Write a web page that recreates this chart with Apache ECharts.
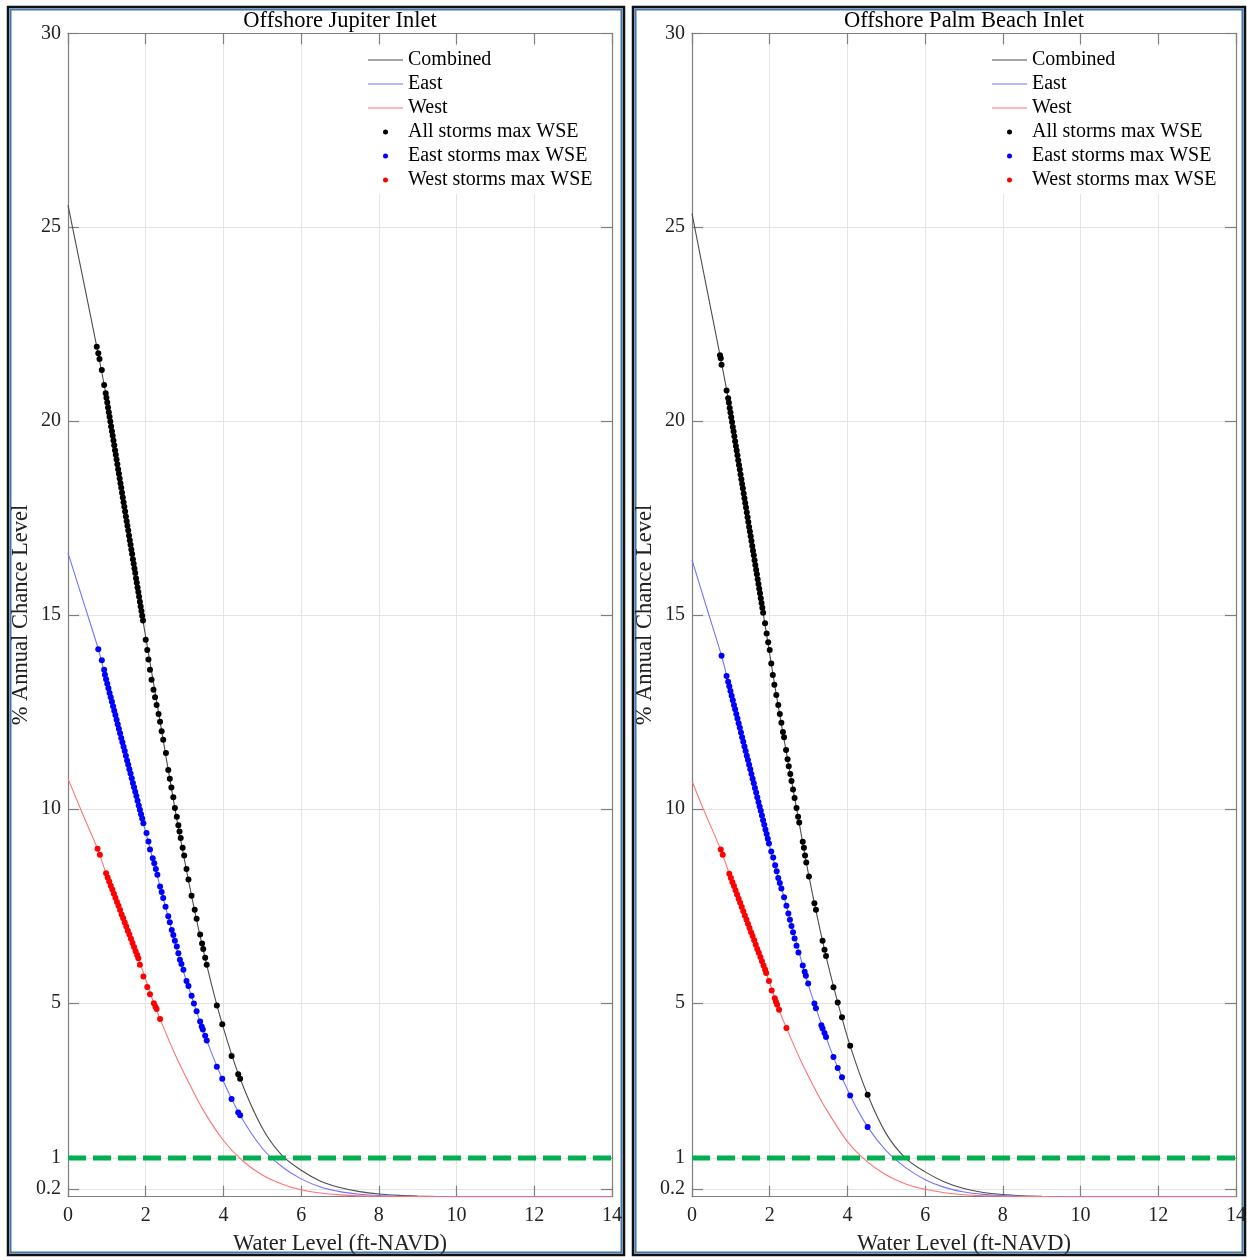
<!DOCTYPE html>
<html><head><meta charset="utf-8">
<script src="https://cdn.jsdelivr.net/npm/echarts@6/dist/echarts.min.js"></script>
<style>html,body{margin:0;padding:0;background:#fff}#c{width:1247px;height:1260px}</style>
</head><body><div id="c"></div>
<script>
const panelTitles = ['Offshore Jupiter Inlet', 'Offshore Palm Beach Inlet'];
const seriesNames = ['Combined', 'East', 'West', 'All storms max WSE', 'East storms max WSE', 'West storms max WSE'];
const xName = 'Water Level (ft-NAVD)';
const yName = '% Annual Chance Level';
const yTicks = [0.2, 1, 5, 10, 15, 20, 25, 30];
const thresholdLevel = 1;

// ---- Offshore Jupiter Inlet ----
const combinedJ = [[0,25.57],[0.37,23.75],[0.74,21.92],[0.97,20.72],[1.45,17.79],[1.94,14.79],[2.37,12.25],[2.75,10.02],[3.18,7.76],[3.57,5.98],[3.97,4.45],[4.43,3.04],[5.0,1.77],[5.5,1.07],[6.0,0.68],[6.5,0.40],[7.0,0.235],[7.5,0.13],[8.0,0.068],[8.5,0.033],[9.0,0.015],[9.5,0.006],[10,0.002],[11,0],[12,0],[14,0]];
const eastJ = [[0,16.6],[0.4,15.33],[0.78,14.12],[0.95,13.46],[1.45,11.52],[1.94,9.63],[2.37,8.0],[2.88,6.11],[3.24,4.98],[3.57,4.03],[3.97,3.04],[4.43,2.1],[5.0,1.25],[5.5,0.78],[6.0,0.46],[6.5,0.25],[7.0,0.13],[7.5,0.065],[8.0,0.03],[8.5,0.013],[9,0.005],[10,0.001],[11,0],[12,0],[14,0]];
const westJ = [[0,10.78],[0.38,9.86],[0.76,8.97],[0.98,8.34],[1.4,7.23],[1.81,6.15],[2.21,4.99],[2.37,4.58],[2.75,3.68],[3.14,2.88],[3.5,2.2],[4.0,1.45],[4.5,0.92],[5.0,0.56],[5.5,0.33],[6.0,0.18],[6.5,0.095],[7.0,0.048],[7.5,0.022],[8.0,0.01],[9,0.002],[10,0],[12,0],[14,0]];
const allStormsJ = [[0.74,21.92],[0.78,21.75],[0.81,21.6],[0.87,21.32],[0.93,20.93],
[0.97,20.72],[0.99,20.60],[1.01,20.48],[1.03,20.35],[1.05,20.23],[1.07,20.11],[1.09,19.99],[1.11,19.86],[1.13,19.74],[1.15,19.62],[1.17,19.50],[1.19,19.38],[1.21,19.25],[1.23,19.13],[1.25,19.01],[1.27,18.89],[1.29,18.76],[1.31,18.64],[1.33,18.52],[1.35,18.40],[1.37,18.28],[1.39,18.15],[1.41,18.03],[1.43,17.91],[1.45,17.79],[1.47,17.67],[1.49,17.54],[1.51,17.42],[1.53,17.30],[1.55,17.18],[1.57,17.05],[1.59,16.93],[1.61,16.81],[1.63,16.69],[1.65,16.57],[1.67,16.44],[1.69,16.32],[1.71,16.20],[1.73,16.08],[1.75,15.95],[1.77,15.83],[1.79,15.71],[1.81,15.59],[1.83,15.47],[1.85,15.34],[1.87,15.22],[1.89,15.10],[1.91,14.98],[1.93,14.86],
[2.0,14.36],[2.04,14.1],[2.07,13.85],[2.11,13.59],[2.15,13.33],[2.2,13.07],[2.24,12.88],[2.28,12.68],[2.33,12.45],[2.37,12.25],[2.41,12.0],[2.45,11.78],[2.52,11.44],[2.58,11.0],[2.62,10.78],[2.66,10.55],[2.71,10.3],[2.75,10.02],[2.8,9.8],[2.84,9.58],[2.87,9.42],[2.9,9.25],[2.95,9.0],[2.99,8.8],[3.05,8.45],[3.1,8.18],[3.18,7.76],[3.26,7.4],[3.31,7.17],[3.4,6.76],[3.45,6.53],[3.48,6.39],[3.53,6.16],[3.57,5.98],[3.83,4.93],[3.97,4.45],[4.21,3.63],[4.38,3.16],[4.43,3.04]];
const eastStormsJ = [[0.78,14.12],[0.87,13.83],[0.93,13.59],
[0.95,13.46],[0.98,13.34],[1.01,13.23],[1.04,13.11],[1.07,12.99],[1.10,12.88],[1.13,12.76],[1.16,12.65],[1.19,12.53],[1.22,12.42],[1.25,12.30],[1.28,12.18],[1.31,12.07],[1.34,11.95],[1.37,11.83],[1.40,11.72],[1.43,11.60],[1.46,11.49],[1.49,11.37],[1.52,11.25],[1.55,11.14],[1.58,11.02],[1.61,10.91],[1.64,10.79],[1.67,10.67],[1.70,10.56],[1.73,10.44],[1.76,10.33],[1.79,10.21],[1.82,10.09],[1.85,9.98],[1.88,9.86],[1.91,9.75],[1.94,9.63],
[2.02,9.38],[2.07,9.16],[2.11,8.95],[2.18,8.73],[2.22,8.6],[2.26,8.45],[2.3,8.3],[2.37,8.0],[2.41,7.86],[2.45,7.7],[2.51,7.48],[2.58,7.23],[2.62,7.08],[2.67,6.88],[2.71,6.75],[2.75,6.6],[2.8,6.45],[2.84,6.28],[2.88,6.11],[2.92,6.0],[2.97,5.85],[3.05,5.56],[3.1,5.43],[3.18,5.18],[3.24,4.98],[3.31,4.78],[3.4,4.52],[3.44,4.39],[3.47,4.31],[3.53,4.15],[3.57,4.03],[3.83,3.35],[3.97,3.04],[4.21,2.52],[4.38,2.17],[4.43,2.1]];
const westStormsJ = [[0.76,8.97],[0.82,8.82],
[0.98,8.34],[1.02,8.23],[1.06,8.13],[1.10,8.02],[1.14,7.92],[1.18,7.81],[1.22,7.71],[1.26,7.60],[1.30,7.50],[1.34,7.39],[1.38,7.28],[1.42,7.18],[1.46,7.07],[1.50,6.97],[1.54,6.86],[1.58,6.76],[1.62,6.65],[1.66,6.54],[1.70,6.44],[1.74,6.33],[1.78,6.23],[1.81,6.15],
[1.85,5.98],[1.94,5.68],[2.04,5.41],[2.11,5.22],[2.21,4.99],[2.25,4.9],[2.28,4.84],[2.37,4.58]];

// ---- Offshore Palm Beach Inlet ----
const combinedP = [[0,25.35],[0.36,23.52],[0.72,21.7],[0.93,20.59],[1.38,17.83],[1.83,15.06],[2.17,12.94],[2.46,11.28],[2.69,10.02],[3.01,8.26],[3.41,6.37],[3.75,5.01],[4.07,3.89],[4.52,2.63],[5.0,1.62],[5.5,0.99],[6.0,0.64],[6.5,0.38],[7.0,0.21],[7.5,0.11],[8.0,0.055],[8.5,0.025],[9,0.01],[9.5,0.004],[10,0.001],[11,0],[12,0],[14,0]];
const eastP = [[0,16.42],[0.38,15.18],[0.76,13.95],[0.93,13.28],[1.46,11.18],[2.0,9.03],[2.37,7.72],[2.85,5.96],[3.15,4.98],[3.64,3.6],[4.07,2.61],[4.52,1.8],[5.0,1.18],[5.5,0.75],[6.0,0.44],[6.5,0.24],[7.0,0.12],[7.5,0.06],[8.0,0.028],[8.5,0.012],[9,0.005],[10,0.001],[11,0],[12,0],[14,0]];
const westP = [[0,10.72],[0.29,10.0],[0.74,8.95],[0.96,8.33],[1.44,7.04],[1.91,5.77],[2.24,4.82],[2.43,4.35],[2.85,3.4],[3.29,2.54],[3.5,2.18],[4.0,1.42],[4.5,0.91],[5.0,0.56],[5.5,0.33],[6.0,0.19],[6.5,0.1],[7.0,0.05],[7.5,0.024],[8,0.011],[9,0.002],[10,0],[12,0],[14,0]];
const allStormsP = [[0.72,21.7],[0.74,21.62],[0.76,21.45],[0.89,20.79],
[0.93,20.59],[0.95,20.47],[0.97,20.34],[0.99,20.22],[1.01,20.10],[1.03,19.98],[1.05,19.85],[1.07,19.73],[1.09,19.61],[1.11,19.48],[1.13,19.36],[1.15,19.24],[1.17,19.12],[1.19,18.99],[1.21,18.87],[1.23,18.75],[1.25,18.62],[1.27,18.50],[1.29,18.38],[1.31,18.26],[1.33,18.13],[1.35,18.01],[1.37,17.89],[1.39,17.77],[1.41,17.64],[1.43,17.52],[1.45,17.40],[1.47,17.27],[1.49,17.15],[1.51,17.03],[1.53,16.91],[1.55,16.78],[1.57,16.66],[1.59,16.54],[1.61,16.41],[1.63,16.29],[1.65,16.17],[1.67,16.05],[1.69,15.92],[1.71,15.80],[1.73,15.68],[1.75,15.56],[1.77,15.43],[1.79,15.31],[1.81,15.19],[1.83,15.06],
[1.88,14.79],[1.92,14.52],[1.96,14.3],[2.0,14.1],[2.04,13.75],[2.08,13.45],[2.12,13.2],[2.17,12.94],[2.22,12.68],[2.26,12.45],[2.3,12.22],[2.34,11.98],[2.37,11.85],[2.42,11.52],[2.46,11.28],[2.49,11.1],[2.53,10.9],[2.56,10.72],[2.6,10.5],[2.64,10.28],[2.69,10.02],[2.73,9.8],[2.76,9.65],[2.85,9.15],[2.88,9.0],[2.91,8.8],[2.94,8.62],[3.01,8.26],[3.15,7.57],[3.19,7.4],[3.36,6.6],[3.41,6.37],[3.45,6.21],[3.64,5.4],[3.75,5.01],[3.86,4.63],[4.07,3.89],[4.52,2.63]];
const eastStormsP = [[0.76,13.95],[0.89,13.43],
[0.93,13.28],[0.96,13.16],[0.99,13.04],[1.02,12.92],[1.05,12.80],[1.08,12.68],[1.11,12.57],[1.14,12.45],[1.17,12.33],[1.20,12.21],[1.23,12.09],[1.26,11.97],[1.29,11.85],[1.32,11.73],[1.35,11.61],[1.38,11.49],[1.41,11.37],[1.44,11.26],[1.47,11.14],[1.50,11.02],[1.53,10.90],[1.56,10.78],[1.59,10.66],[1.62,10.54],[1.65,10.42],[1.68,10.30],[1.71,10.18],[1.74,10.06],[1.77,9.95],[1.80,9.83],[1.83,9.71],[1.86,9.59],[1.89,9.47],[1.92,9.35],[1.95,9.23],[1.98,9.11],
[2.04,8.9],[2.09,8.75],[2.14,8.55],[2.18,8.39],[2.22,8.22],[2.26,8.09],[2.3,7.95],[2.37,7.72],[2.43,7.5],[2.48,7.3],[2.52,7.14],[2.56,6.98],[2.6,6.82],[2.64,6.66],[2.69,6.47],[2.74,6.3],[2.85,5.96],[2.9,5.8],[2.93,5.7],[2.99,5.5],[3.15,4.98],[3.19,4.86],[3.33,4.42],[3.36,4.34],[3.41,4.22],[3.45,4.12],[3.64,3.6],[3.75,3.32],[3.86,3.08],[4.07,2.61],[4.52,1.8]];
const westStormsP = [[0.74,8.95],[0.79,8.82],
[0.96,8.33],[1.00,8.22],[1.04,8.11],[1.08,8.01],[1.12,7.90],[1.16,7.79],[1.20,7.68],[1.24,7.58],[1.28,7.47],[1.32,7.36],[1.36,7.25],[1.40,7.15],[1.44,7.04],[1.48,6.93],[1.52,6.82],[1.56,6.72],[1.60,6.61],[1.64,6.50],[1.68,6.39],[1.72,6.29],[1.76,6.18],[1.80,6.07],[1.84,5.96],[1.88,5.86],[1.91,5.77],
[1.98,5.56],[2.05,5.32],[2.13,5.12],[2.16,5.03],[2.19,4.95],[2.24,4.82],[2.43,4.35]];

const panels = [
  {lines: [combinedJ, eastJ, westJ], dots: [allStormsJ, eastStormsJ, westStormsJ]},
  {lines: [combinedP, eastP, westP], dots: [allStormsP, eastStormsP, westStormsP]}
];

const FF = "'Liberation Serif','Times New Roman',serif";
const AX = '#7f7f7f';
const GRIDC = '#e4e4e4';
const lineColors = ['#4d4d4d', '#7373ff', '#ff7373'];
const dotColors = ['#000000', '#0000ff', '#ff0000'];
const gridLeft = [68, 692];
const gridTop = 33.3, gridW = 544, gridH = 1163.4;
const lineIcon = 'path://M0,0H35V1.2H0Z';

const grids = [], xAxes = [], yAxes = [], series = [], titles = [], legends = [];
panels.forEach((p, i) => {
  grids.push({left: gridLeft[i], top: gridTop, width: gridW, height: gridH, containLabel: false, outerBoundsMode: 'none'});
  ['bottom', 'top'].forEach(pos => {
    const main = pos === 'bottom';
    xAxes.push({type: 'value', gridIndex: i, position: pos, min: 0, max: 14, interval: 2,
      axisLine: {show: true, onZero: false, lineStyle: {color: AX, width: 1.2}},
      axisTick: {show: true, inside: true, length: 11, lineStyle: {color: AX, width: 1.2}},
      axisLabel: {show: main, margin: 9, fontSize: 20, fontFamily: FF, color: '#222', showMinLabel: true, showMaxLabel: true},
      splitLine: {show: main, lineStyle: {color: GRIDC, width: 1}},
      name: main ? xName : '', nameLocation: 'middle', nameGap: 35.5,
      nameTextStyle: {fontSize: 22.5, fontFamily: FF, color: '#222'}
    });
  });
  ['left', 'right'].forEach(pos => {
    const main = pos === 'left';
    yAxes.push({type: 'value', gridIndex: i, position: pos, min: 0, max: 30,
      axisLine: {show: true, onZero: false, lineStyle: {color: AX, width: 1.2}},
      axisTick: {show: true, inside: true, length: 11, customValues: yTicks, lineStyle: {color: AX, width: 1.2}},
      axisLabel: {show: main, margin: 7, customValues: yTicks, fontSize: 20, fontFamily: FF, color: '#222'},
      splitLine: {show: main, lineStyle: {color: GRIDC, width: 1}},
      name: main ? yName : '', nameLocation: 'middle', nameGap: 34.5,
      nameTextStyle: {fontSize: 22.5, fontFamily: FF, color: '#222'}
    });
  });
  titles.push({text: panelTitles[i], left: gridLeft[i] + gridW / 2 - 5, top: 5, textAlign: 'center',
    textStyle: {fontSize: 22.5, fontFamily: FF, fontWeight: 'normal', color: '#000'}});
  legends.push({orient: 'vertical', left: gridLeft[i] + 297, top: 46, padding: [2, 9, 2, 3],
    backgroundColor: '#fff', itemWidth: 35, itemHeight: 5, itemGap: 0, selectedMode: false,
    data: seriesNames.map((n, k) => k < 3 ? {name: n, icon: lineIcon} : {name: n}),
    textStyle: {fontSize: 20, fontFamily: FF, color: '#000', lineHeight: 24}});
  p.lines.forEach((d, k) => {
    series.push({type: 'line', name: seriesNames[k], xAxisIndex: 2 * i, yAxisIndex: 2 * i, data: d,
      smooth: 0.3, symbol: 'none', showSymbol: false, z: 2,
      lineStyle: {color: lineColors[k], width: 1.1}, itemStyle: {color: lineColors[k]}});
  });
  p.dots.forEach((d, k) => {
    series.push({type: 'scatter', name: seriesNames[k + 3], xAxisIndex: 2 * i, yAxisIndex: 2 * i, data: d,
      symbol: 'circle', symbolSize: 6, z: 3, itemStyle: {color: dotColors[k], opacity: 1}});
  });
  series.push({type: 'line', name: 'threshold', xAxisIndex: 2 * i, yAxisIndex: 2 * i,
    data: [[0, thresholdLevel], [14, thresholdLevel]], symbol: 'none', z: 4,
    lineStyle: {color: '#00b050', width: 5, type: [18, 7]}});
});

const frames = [];
[[8, 616], [633, 612]].forEach(([x, w]) => {
  frames.push({type: 'rect', shape: {x: x, y: 7, width: w, height: 1248}, style: {fill: 'none', stroke: '#111', lineWidth: 2.5}, silent: true});
  frames.push({type: 'rect', shape: {x: x + 2.5, y: 9.5, width: w - 5, height: 1243}, style: {fill: 'none', stroke: '#4677aa', lineWidth: 2}, silent: true});
});

const chart = echarts.init(document.getElementById('c'), null, {renderer: 'canvas'});
chart.setOption({
  animation: false,
  backgroundColor: '#fff',
  title: titles,
  legend: legends,
  grid: grids,
  xAxis: xAxes,
  yAxis: yAxes,
  series: series,
  graphic: frames
});
</script></body></html>
